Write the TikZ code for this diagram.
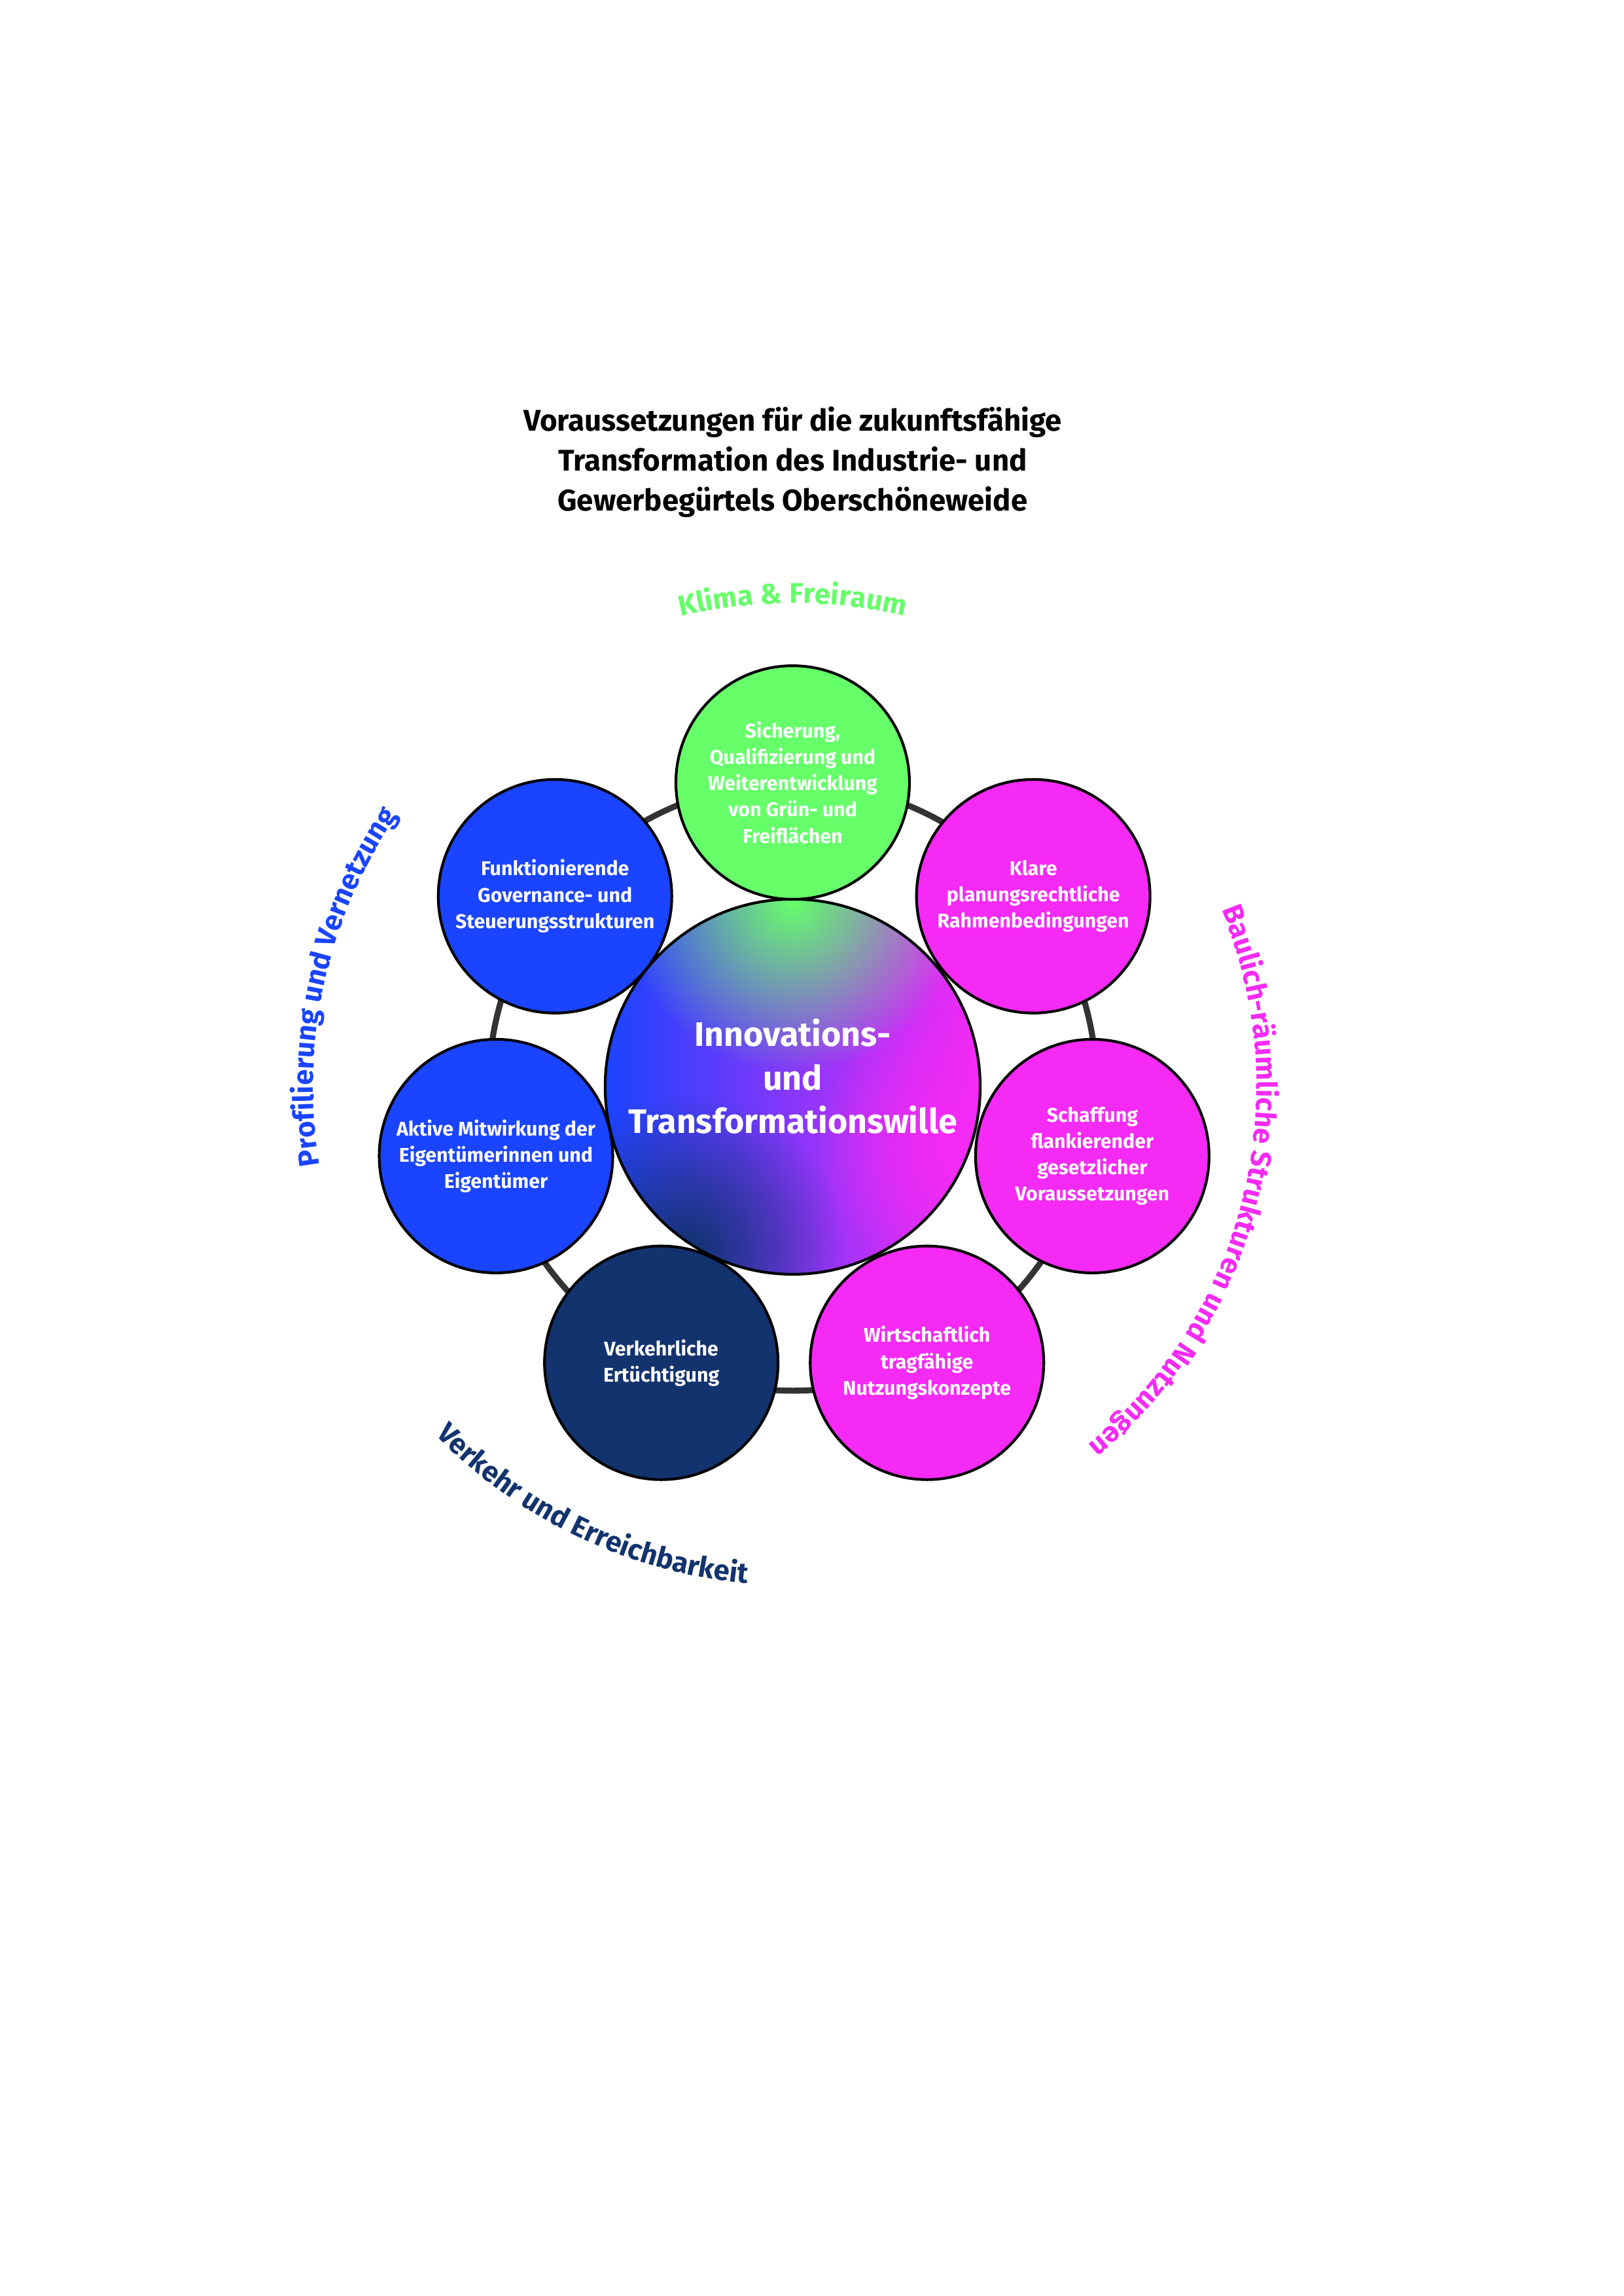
\documentclass[tikz,border=0pt]{standalone}
\usepackage{fontspec}
\setmainfont{Fira Sans}
\usetikzlibrary{calc,fadings,decorations.text}
\definecolor{grn}{HTML}{66FF6A}
\definecolor{blu}{HTML}{1A44FF}
\definecolor{mag}{HTML}{F52AF5}
\definecolor{navy}{HTML}{12336E}
\tikzfading[name=softdisk, inner color=transparent!0, outer color=transparent!100]
\tikzset{
  topic/.style={draw=black, line width=1pt, circle, minimum size=3.02cm, inner sep=0pt,
    align=center, text=white, font=\fontsize{7.3}{9.7}\selectfont\bfseries},
  arclabel/.style={decorate, decoration={text along path, text align=center}}
}
\begin{document}
\begin{tikzpicture}[x=0.01909cm,y=0.01909cm]
  \useasboundingbox (0,0) rectangle (1100,1555);
  \begin{scope}[shift={(-4,5)}]
  % Title
  \node[align=center, font=\fontsize{11}{14.6}\selectfont\bfseries] (title) at (541,1237)
    {Voraussetzungen für die zukunftsfähige\\Transformation des Industrie- und\\Gewerbegürtels Oberschöneweide};

  % Ring behind the circles
  \coordinate (C) at (541,814);
  \draw[line width=2.2pt, black!80] (C) circle (3.93cm);

  % Central circle
  \node[circle, minimum size=4.85cm, inner sep=0pt] (core) at (C) {};
  \begin{scope}
    \clip (C) circle (2.425cm);
    \shade[left color=blu, right color=mag, middle color=blu!50!mag] (C) circle (2.425cm);
    \fill[grn, path fading=softdisk] ($(C)+(0,125)$) circle (2.2cm);
    \fill[navy, path fading=softdisk] ($(C)+(-70,-110)$) circle (2.0cm);
    \fill[mag, path fading=softdisk] ($(C)+(110,-40)$) circle (1.8cm);
  \end{scope}
  \draw[line width=1pt] (C) circle (2.425cm);
  \node[align=center, text=white, font=\fontsize{12.5}{16}\selectfont\bfseries] (coretext) at ($(C)+(0,7)$)
    {Innovations-\\und\\Transformationswille};

  % Topic circles
  \node[topic, fill=grn] (green) at (541,1020)
    {Sicherung,\\Qualifizierung und\\Weiterentwicklung\\von Grün- und\\Freiflächen};
  \node[topic, fill=mag] (plan) at (704,943)
    {Klare\\planungsrechtliche\\Rahmenbedingungen};
  \node[topic, fill=mag] (law) at (744,767)
    {Schaffung\\flankierender\\gesetzlicher\\Voraussetzungen};
  \node[topic, fill=mag] (econ) at (632,627)
    {Wirtschaftlich\\tragfähige\\Nutzungskonzepte};
  \node[topic, fill=navy] (traffic) at (452,627)
    {Verkehrliche\\Ertüchtigung};
  \node[topic, fill=blu] (owners) at (340,767)
    {Aktive Mitwirkung der\\Eigentümerinnen und\\Eigentümer};
  \node[topic, fill=blu] (gov) at (380,943)
    {Funktionierende\\Governance- und\\Steuerungsstrukturen};

  % Curved group labels
  \path[arclabel, decoration={text={|\fontsize{10.5}{12}\selectfont\bfseries\color{grn}|Klima {\&} Freiraum}}]
    ($(C)+(115:6.25cm)$) arc[start angle=115, end angle=65, radius=6.25cm];
  \path[arclabel, decoration={text={|\fontsize{10.5}{12}\selectfont\bfseries\color{blu}|Profilierung und Vernetzung}}]
    ($(C)+(200:6.2cm)$) arc[start angle=200, end angle=135, radius=6.2cm];
  \path[arclabel, decoration={text={|\fontsize{10.5}{12}\selectfont\bfseries\color{mag}|Baulich-räumliche Strukturen und Nutzungen}}]
    ($(C)+(30:6.0cm)$) arc[start angle=30, end angle=-58, radius=6.0cm];
  \path[arclabel, decoration={text={|\fontsize{10.5}{12}\selectfont\bfseries\color{navy}|Verkehr und Erreichbarkeit}}]
    ($(C)+(212:6.45cm)$) arc[start angle=212, end angle=277, radius=6.45cm];
  \end{scope}
\end{tikzpicture}
\end{document}
